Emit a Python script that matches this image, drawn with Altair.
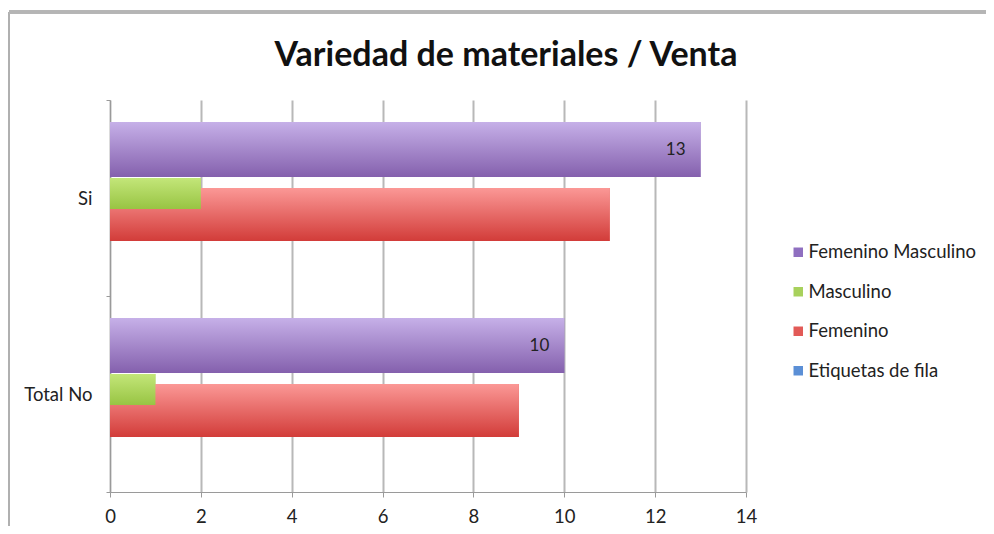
import altair as alt
import pandas as pd

categories = ["Si", "Total No"]
series = ["Femenino Masculino", "Masculino", "Femenino", "Etiquetas de fila"]
femenino_masculino = [13, 10]
masculino = [2, 1]
femenino = [11, 9]
etiquetas_de_fila = [0, 0]
x_ticks = [0, 2, 4, 6, 8, 10, 12, 14]

flat_colors = ["#8f6fc0", "#a8d15c", "#e25a57", "#5b8fd6"]

rows = []
for name, vals in zip(series, [femenino_masculino, masculino, femenino, etiquetas_de_fila]):
    for c, v in zip(categories, vals):
        rows.append({"cat": c, "serie": name, "valor": v})
df = pd.DataFrame(rows)

FONT = "Lato"
FS = 18.5

def grad(top, bottom):
    return alt.Gradient(
        gradient="linear",
        stops=[alt.GradientStop(color=top, offset=0), alt.GradientStop(color=bottom, offset=1)],
        x1=0, x2=0, y1=0, y2=1,
    )

# geometry per series (style only): height, offset from band centre
geom = {
    "Femenino Masculino": (55, -48.5, grad("#c6b0e8", "#8460ad")),
    "Femenino": (53, 16.5, grad("#fb9896", "#d23c39")),
    "Masculino": (31, -4.5, grad("#c3e679", "#98c443")),
    "Etiquetas de fila": (55, 71, grad("#8fb6ec", "#4b7fc8")),
}

x_enc = alt.X(
    "valor:Q",
    scale=alt.Scale(domain=[0, 14], nice=False),
    axis=alt.Axis(values=x_ticks, title=None, grid=True, gridColor="#b8b8b8", gridWidth=2,
                  domainColor="#9a9a9a", domainWidth=1, tickColor="#9a9a9a", tickSize=5,
                  labelFlush=False, labelFont=FONT, labelFontSize=FS, labelColor="#222",
                  labelPadding=10),
)
y_enc = alt.Y(
    "cat:N",
    sort=categories,
    scale=alt.Scale(paddingInner=0, paddingOuter=0),
    axis=alt.Axis(title=None, domainColor="#9a9a9a", domainWidth=1, ticks=True, tickColor="#9a9a9a",
                  tickSize=4, tickBand="extent", labelFont=FONT, labelFontSize=FS, labelColor="#222",
                  labelPadding=14, grid=False),
)

base = alt.Chart(df)

order = ["Femenino Masculino", "Femenino", "Masculino", "Etiquetas de fila"]

flat_layers = []
for s in order:
    h, off, _ = geom[s]
    flat_layers.append(
        base.transform_filter(alt.datum.serie == s).mark_bar(height=h, yOffset=off).encode(
            x=x_enc, y=y_enc,
            color=alt.Color("serie:N", scale=alt.Scale(domain=series, range=flat_colors),
                            legend=alt.Legend(title=None, orient="none", legendX=679, legendY=143,
                                              symbolType="square", symbolSize=90, symbolStrokeWidth=0,
                                              labelFont=FONT, labelFontSize=FS, labelColor="#222",
                                              labelLimit=400, rowPadding=20.5, labelOffset=1)),
        )
    )

grad_layers = []
for s in order:
    h, off, g = geom[s]
    grad_layers.append(
        base.transform_filter(alt.datum.serie == s).mark_bar(height=h, yOffset=off, color=g).encode(
            x=x_enc, y=y_enc,
        )
    )

labels = base.transform_filter(alt.datum.serie == "Femenino Masculino").mark_text(
    align="right", baseline="middle", dx=-15, yOffset=-48.5, font=FONT, fontSize=17, color="#222"
).encode(x=x_enc, y=y_enc, text="valor:Q")

border_left = alt.Chart(df).mark_rule(color="#b0b0b0", strokeWidth=1.5).encode(
    x=alt.value(-101), y=alt.value(-88), y2=alt.value(430)
)
border_top = alt.Chart(df).mark_rule(color="#b5b5b5", strokeWidth=3).encode(
    x=alt.value(-101), x2=alt.value(880), y=alt.value(-88)
)

chart = alt.layer(*flat_layers, *grad_layers, labels, border_left, border_top).properties(
    width=636,
    height=392,
    title=alt.TitleParams("Variedad de materiales / Venta", font=FONT, fontSize=34, fontWeight="bold",
                          color="#111", anchor="middle", frame="group", dx=78, offset=-62),
    autosize=alt.AutoSizeParams(type="none"),
    padding={"left": 102, "top": 92, "right": 240, "bottom": 34},
).configure_view(stroke=None)

chart.save("out.html", embed_options={"renderer": "svg", "actions": False})
